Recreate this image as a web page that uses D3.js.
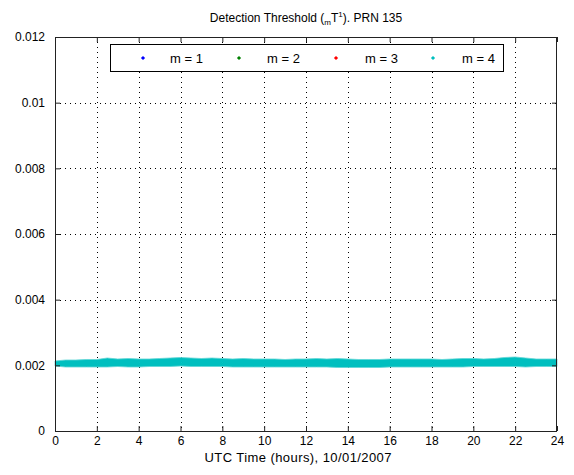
<!DOCTYPE html>
<html>
<head>
<meta charset="utf-8">
<script src="https://cdn.jsdelivr.net/npm/d3@7"></script>
<style>
  html, body { margin: 0; padding: 0; background: #fff; }
  svg { display: block; font-family: "Liberation Sans", Arial, sans-serif; }
</style>
</head>
<body>
<svg id="chart" width="574" height="475"></svg>
<script>
// ---- data ----
const xTickValues = [0, 2, 4, 6, 8, 10, 12, 14, 16, 18, 20, 22, 24];
const xTickLabels = ["0","2","4","6","8","10","12","14","16","18","20","22","24"];
const yTickValues = [0, 0.002, 0.004, 0.006, 0.008, 0.01, 0.012];
const yTickLabels = ["0","0.002","0.004","0.006","0.008","0.01","0.012"];
const seriesNames = ["m = 1", "m = 2", "m = 3", "m = 4"];
const seriesColors = ["#0000ff", "#008000", "#ff0000", "#00bfbf"];
// UTC hour of each envelope sample of the m = 4 band
const hours = [0,0.5,1,1.5,2,2.5,3,3.5,4,4.5,5,5.5,6,6.5,7,7.5,8,8.5,9,9.5,10,10.5,11,11.5,12,
  12.5,13,13.5,14,14.5,15,15.5,16,16.5,17,17.5,18,18.5,19,19.5,20,20.5,21,21.5,22,22.5,23,23.5,24];
// upper / lower envelope of the m = 4 detection threshold points
const m4Upper = [0.002132,0.002162,0.002162,0.002178,0.002178,0.002223,0.002193,0.002208,0.002193,0.002193,
  0.002208,0.002223,0.002239,0.002223,0.002208,0.002223,0.002208,0.002193,0.002208,0.002193,
  0.002193,0.002193,0.002178,0.002193,0.002193,0.002208,0.002193,0.002208,0.002193,0.002178,
  0.002178,0.002178,0.002193,0.002193,0.002193,0.002193,0.002193,0.002178,0.002193,0.002208,
  0.002208,0.002193,0.002208,0.002239,0.002254,0.002223,0.002193,0.002193,0.002193];
const m4Lower = [0.001980,0.001949,0.001949,0.001949,0.001949,0.001949,0.001964,0.001949,0.001949,0.001964,
  0.001964,0.001964,0.001980,0.001964,0.001964,0.001964,0.001964,0.001949,0.001949,0.001949,
  0.001949,0.001949,0.001949,0.001949,0.001949,0.001949,0.001949,0.001934,0.001934,0.001934,
  0.001934,0.001934,0.001949,0.001949,0.001949,0.001949,0.001949,0.001949,0.001949,0.001949,
  0.001964,0.001964,0.001964,0.001964,0.001964,0.001949,0.001964,0.001964,0.001964];

// ---- layout ----
const svg = d3.select("#chart");
const L = 55, R = 557, T = 37, B = 431;
const x = d3.scaleLinear().domain([0, 24]).range([L, R]);
const y = d3.scaleLinear().domain([0, 0.012]).range([B, T]);
const axisColor = "#222";

// grid
const grid = svg.append("g").attr("stroke", "#000").attr("stroke-width", 1)
  .attr("stroke-dasharray", "1,4").attr("shape-rendering", "crispEdges");
grid.selectAll("line.gx").data(xTickValues.slice(1, -1)).join("line")
  .attr("x1", d => Math.round(x(d)) + 0.5).attr("x2", d => Math.round(x(d)) + 0.5)
  .attr("y1", T).attr("y2", B);
grid.selectAll("line.gy").data(yTickValues.slice(1, -1)).join("line")
  .attr("y1", d => Math.round(y(d)) + 0.5).attr("y2", d => Math.round(y(d)) + 0.5)
  .attr("x1", L).attr("x2", R);

// band (m = 4)
const band = hours.map((h, i) => ({ h, lo: m4Lower[i], hi: m4Upper[i] }));
const area = d3.area().x(d => x(d.h)).y0(d => y(d.lo)).y1(d => y(d.hi)).curve(d3.curveLinear);
svg.append("path").datum(band).attr("d", area)
  .attr("fill", seriesColors[3]).attr("stroke", "#5fd6d6").attr("stroke-width", 0.8);

// axes (d3 axes for labels, inward ticks)
const fmtX = d => xTickLabels[xTickValues.indexOf(d)];
const fmtY = d => yTickLabels[yTickValues.indexOf(d)];
const gxB = svg.append("g").attr("transform", `translate(0,${B})`)
  .call(d3.axisBottom(x).tickValues(xTickValues).tickFormat(fmtX).tickSize(-5).tickSizeOuter(0).tickPadding(5));
const gxT = svg.append("g").attr("transform", `translate(0,${T})`)
  .call(d3.axisTop(x).tickValues(xTickValues).tickFormat("").tickSize(-5).tickSizeOuter(0));
const gyL = svg.append("g").attr("transform", `translate(${L},0)`)
  .call(d3.axisLeft(y).tickValues(yTickValues).tickFormat(fmtY).tickSize(-5).tickSizeOuter(0).tickPadding(10));
const gyR = svg.append("g").attr("transform", `translate(${R},0)`)
  .call(d3.axisRight(y).tickValues(yTickValues).tickFormat("").tickSize(-5).tickSizeOuter(0));
[gxB, gxT, gyL, gyR].forEach(g => {
  g.select(".domain").remove();
  g.selectAll(".tick line").attr("stroke", axisColor);
  g.selectAll(".tick text").attr("fill", "#000").attr("font-size", 12)
    .attr("font-family", "'Liberation Sans', Arial, sans-serif");
});

// frame
svg.append("rect").attr("x", L + 0.5).attr("y", T + 0.5).attr("width", R - L - 1).attr("height", B - T)
  .attr("fill", "none").attr("stroke", axisColor).attr("stroke-width", 1);

// legend
const lg = svg.append("g");
lg.append("rect").attr("x", 110.5).attr("y", 44.5).attr("width", 393).attr("height", 27)
  .attr("fill", "#fff").attr("stroke", "#000").attr("stroke-width", 1);
const legX = [143, 239, 336, 433];
const legTX = [170, 267, 365, 462];
seriesNames.forEach((n, i) => {
  lg.append("path").attr("d", d3.symbol(d3.symbolSquare, 9)())
    .attr("transform", `translate(${legX[i]},58) rotate(45)`)
    .attr("fill", seriesColors[i]);
  lg.append("text").attr("x", legTX[i]).attr("y", 63).attr("font-size", 13)
    .attr("fill", "#000").text(n);
});

// title
const title = svg.append("text").attr("x", 306).attr("y", 22).attr("text-anchor", "middle")
  .attr("font-size", 12).attr("fill", "#000");
title.append("tspan").text("Detection Threshold (");
title.append("tspan").attr("font-size", 8).attr("dy", 3).text("m");
title.append("tspan").attr("dy", -3).text("T");
title.append("tspan").attr("font-size", 8).attr("dy", -5).text("1");
title.append("tspan").attr("dy", 5).text("). PRN 135");

// x label
svg.append("text").attr("x", 298).attr("y", 462).attr("text-anchor", "middle")
  .attr("font-size", 13).attr("textLength", 187).attr("lengthAdjust", "spacing")
  .attr("fill", "#000").text("UTC Time (hours), 10/01/2007");
</script>
</body>
</html>
